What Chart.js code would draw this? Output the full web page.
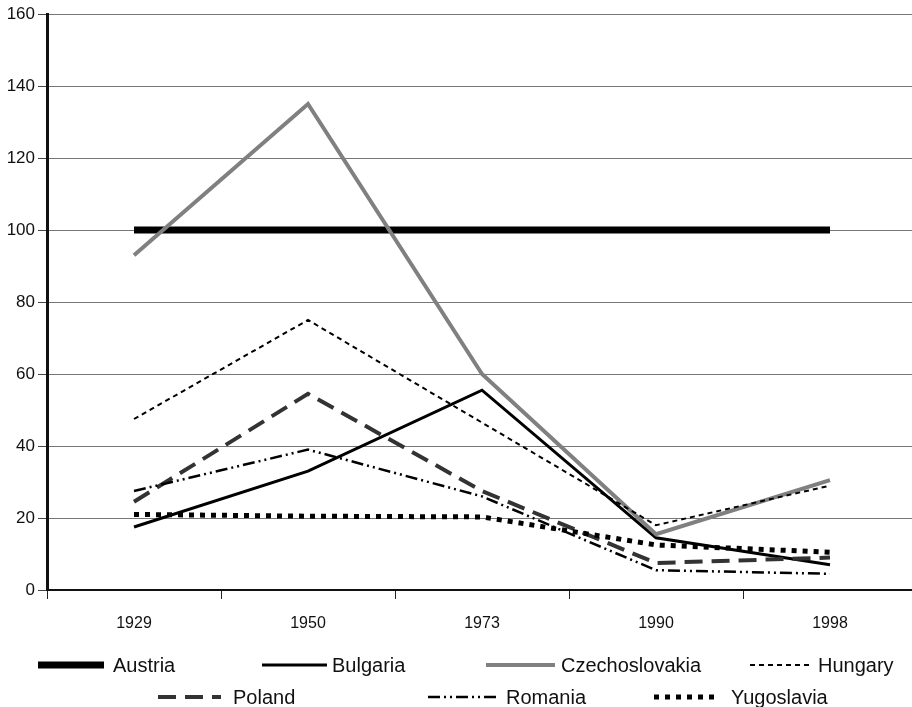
<!DOCTYPE html>
<html>
<head>
<meta charset="utf-8">
<script src="https://cdn.jsdelivr.net/npm/chart.js@4.4.1/dist/chart.umd.min.js"></script>
<style>
    html, body { margin: 0; padding: 0; background: #fff; overflow: hidden; }
    #wrap { width: 930px; height: 707px; }
</style>
</head>
<body>
<div id="wrap"><canvas id="chart" width="930" height="707"></canvas></div>
<script>
const years = ["1929", "1950", "1973", "1990", "1998"];
const austria = [100, 100, 100, 100, 100];
const bulgaria = [17.5, 33, 55.5, 14.5, 7];
const czechoslovakia = [93, 135, 60, 15.5, 30.5];
const hungary = [47.5, 75, 46.5, 18, 29];
const poland = [24.5, 54.5, 27.5, 7.5, 9];
const romania = [27.5, 39, 26, 5.5, 4.5];
const yugoslavia = [21, 20.5, 20.3, 12.5, 10.5];

// where each legend entry sits (sample start, sample width, text start, row centre)
const legendSlots = [
    {x: 38, w: 66, tx: 113, y: 665},
    {x: 262, w: 65, tx: 332, y: 665},
    {x: 486, w: 69, tx: 561, y: 665},
    {x: 750, w: 62, tx: 818, y: 665},
    {x: 158, w: 63, tx: 233, y: 697},
    {x: 428, w: 70, tx: 506, y: 697},
    {x: 654, w: 64, tx: 731, y: 697},
];

function series(label, data, color, width, dash) {
    return {
        label: label,
        data: data,
        borderColor: color,
        backgroundColor: color,
        borderWidth: width,
        borderDash: dash,
        borderCapStyle: "butt",
        pointRadius: 0,
        tension: 0,
        fill: false,
    };
}

const datasets = [
    series("Austria", austria, "#000", 7, []),
    series("Bulgaria", bulgaria, "#000", 3, []),
    series("Czechoslovakia", czechoslovakia, "#808080", 4, []),
    series("Hungary", hungary, "#000", 2, [5, 4]),
    series("Poland", poland, "#333", 4, [18, 9]),
    series("Romania", romania, "#000", 2.5, [12, 4, 2, 4, 2, 4]),
    series("Yugoslavia", yugoslavia, "#000", 5, [5, 6]),
];
// later series drawn on top, as in the original
datasets.forEach((d, i) => { d.order = datasets.length - i; });

const bottomLegend = {
    id: "bottomLegend",
    afterDraw(chart) {
        const ctx = chart.ctx;
        ctx.save();
        ctx.font = "20px 'Liberation Sans', Arial, sans-serif";
        ctx.textBaseline = "middle";
        ctx.textAlign = "left";
        chart.data.datasets.forEach((ds, i) => {
            const s = legendSlots[i];
            ctx.beginPath();
            ctx.strokeStyle = ds.borderColor;
            ctx.lineWidth = ds.borderWidth;
            ctx.setLineDash(ds.borderDash);
            ctx.lineCap = "butt";
            ctx.moveTo(s.x, s.y);
            ctx.lineTo(s.x + s.w, s.y);
            ctx.stroke();
            ctx.setLineDash([]);
            ctx.fillStyle = "#111";
            ctx.fillText(ds.label, s.tx, s.y + 1);
        });
        ctx.restore();
    }
};

new Chart(document.getElementById("chart").getContext("2d"), {
    type: "line",
    data: {labels: years, datasets: datasets},
    plugins: [bottomLegend],
    options: {
        responsive: false,
        animation: false,
        layout: {padding: {top: 14, right: 13, bottom: 0, left: 0}},
        plugins: {
            legend: {display: false},
            tooltip: {enabled: false},
        },
        scales: {
            x: {
                offset: true,
                grid: {
                    offset: true,
                    drawOnChartArea: false,
                    drawTicks: true,
                    tickLength: 9,
                    tickColor: "#222",
                    tickWidth: 1,
                },
                border: {color: "#111", width: 2},
                ticks: {
                    color: "#111",
                    padding: 15,
                    font: {family: "'Liberation Sans', Arial, sans-serif", size: 16},
                    maxRotation: 0,
                },
                afterFit: (s) => { s.height = 117; },
            },
            y: {
                min: 0,
                max: 160,
                grid: {
                    color: "#777",
                    lineWidth: 1,
                    tickLength: 9,
                    tickColor: "#444",
                },
                border: {color: "#111", width: 3},
                ticks: {
                    stepSize: 20,
                    color: "#111",
                    padding: 3,
                    font: {family: "'Liberation Sans', Arial, sans-serif", size: 17},
                },
                afterFit: (s) => { s.width = 47; },
            },
        },
    },
});
</script>
</body>
</html>
